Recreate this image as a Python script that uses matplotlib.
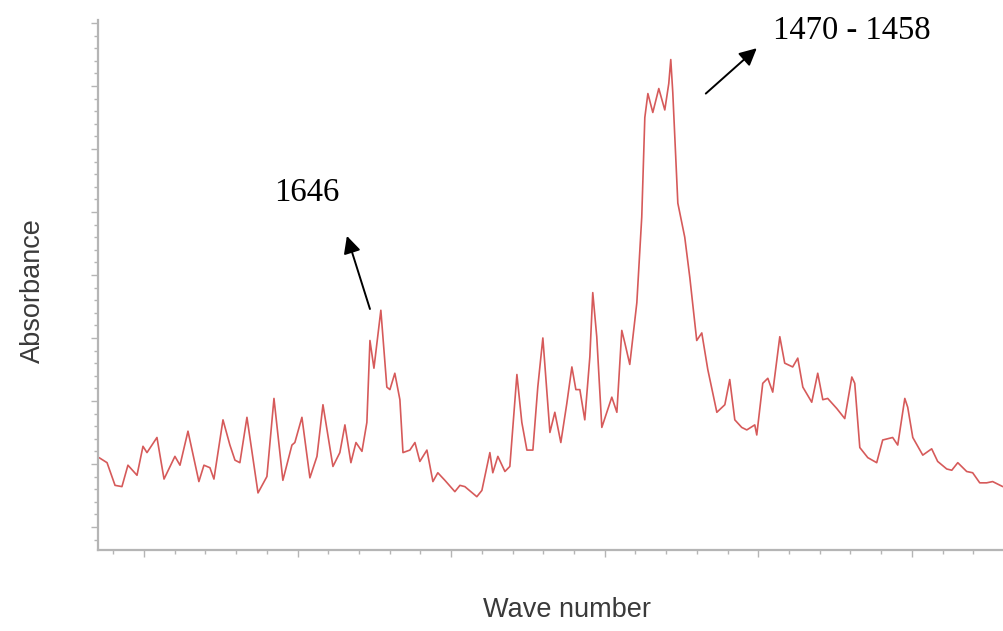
import matplotlib
matplotlib.use("Agg")
import matplotlib.pyplot as plt
from matplotlib.ticker import MultipleLocator, NullFormatter

# IR spectrum: wavenumber (cm^-1) and absorbance
wavenumber = [
    1829.3, 1824.1, 1818.9, 1814.4, 1810.5, 1804.6, 1800.7, 1798.1, 1791.6, 1787.0,
    1779.9, 1776.6, 1771.4, 1764.3, 1761.0, 1757.1, 1754.5, 1748.6, 1744.1, 1740.8,
    1737.6, 1733.0, 1725.8, 1720.0, 1715.4, 1709.6, 1703.7, 1701.8, 1697.2, 1692.0,
    1687.4, 1683.5, 1677.0, 1672.5, 1669.2, 1665.3, 1662.0, 1658.1, 1654.9, 1652.9,
    1650.3, 1645.8, 1641.9, 1639.9, 1636.7, 1633.4, 1631.4, 1626.9, 1623.6, 1620.4,
    1615.8, 1611.9, 1608.7, 1604.1, 1597.6, 1594.3, 1591.1, 1583.3, 1580.0, 1574.8,
    1572.9, 1569.6, 1565.0, 1561.8, 1557.2, 1554.0, 1550.7, 1546.8, 1543.6, 1540.3,
    1535.7, 1532.5, 1528.6, 1524.7, 1521.4, 1518.8, 1516.2, 1513.0, 1509.7, 1507.8,
    1505.2, 1501.9, 1495.4, 1492.1, 1488.9, 1486.9, 1483.7, 1479.1, 1475.9, 1473.9,
    1471.9, 1468.7, 1464.8, 1460.9, 1458.3, 1457.0, 1455.7, 1452.4, 1447.9, 1444.6,
    1440.1, 1436.8, 1432.9, 1427.0, 1421.8, 1418.6, 1415.3, 1410.8, 1407.5, 1402.3,
    1401.0, 1397.1, 1393.8, 1390.6, 1386.0, 1382.8, 1377.6, 1374.3, 1371.0, 1365.2,
    1361.3, 1358.0, 1354.8, 1348.9, 1343.7, 1339.1, 1337.2, 1333.9, 1328.7, 1322.9,
    1319.0, 1312.5, 1309.2, 1304.6, 1302.7, 1299.4, 1292.9, 1287.1, 1283.2, 1277.3,
    1274.0, 1270.1, 1264.3, 1260.4, 1255.8, 1251.3, 1247.4, 1240.8,
]
absorbance = [
    0.255, 0.251, 0.233, 0.232, 0.249, 0.241, 0.264, 0.259, 0.271, 0.238,
    0.256, 0.249, 0.276, 0.236, 0.249, 0.247, 0.238, 0.285, 0.265, 0.253,
    0.251, 0.287, 0.227, 0.240, 0.302, 0.237, 0.265, 0.267, 0.287, 0.239,
    0.256, 0.297, 0.248, 0.259, 0.281, 0.251, 0.267, 0.260, 0.283, 0.348,
    0.326, 0.372, 0.311, 0.309, 0.322, 0.301, 0.259, 0.261, 0.267, 0.252,
    0.261, 0.236, 0.243, 0.237, 0.228, 0.233, 0.232, 0.224, 0.229, 0.259,
    0.243, 0.256, 0.244, 0.248, 0.321, 0.283, 0.261, 0.261, 0.311, 0.350,
    0.275, 0.291, 0.267, 0.298, 0.327, 0.309, 0.309, 0.285, 0.335, 0.386,
    0.351, 0.279, 0.303, 0.291, 0.356, 0.346, 0.329, 0.378, 0.446, 0.525,
    0.544, 0.529, 0.548, 0.531, 0.552, 0.571, 0.545, 0.457, 0.430, 0.398,
    0.348, 0.354, 0.325, 0.291, 0.297, 0.317, 0.285, 0.279, 0.277, 0.281,
    0.273, 0.314, 0.318, 0.307, 0.351, 0.330, 0.327, 0.334, 0.311, 0.299,
    0.322, 0.301, 0.302, 0.294, 0.286, 0.319, 0.314, 0.263, 0.255, 0.251,
    0.269, 0.271, 0.265, 0.302, 0.295, 0.271, 0.257, 0.262, 0.252, 0.246,
    0.245, 0.251, 0.244, 0.243, 0.235, 0.235, 0.236, 0.232,
]

# Band labels and arrows (label position, arrow tail, arrow head)
band_labels = ["1646", "1470 - 1458"]
label_pos = [(1694.0, 0.465), (1339.1, 0.594)]
arrow_tail = [(1652.9, 0.373), (1434.2, 0.544)]
arrow_head = [(1667.9, 0.431), (1401.0, 0.580)]

fig = plt.figure(figsize=(10.04, 6.31), dpi=100)
ax = fig.add_axes([0.0976, 0.1284, 0.9024, 0.8399])

ax.plot(wavenumber, absorbance, color="#d65a5a", lw=1.2,
        solid_joinstyle="round", solid_capstyle="round")

ax.set_xlim(1830, 1240)
ax.set_ylim(0.1817, 0.6024)

axis_grey = "#b5b5b5"
for side in ("top", "right"):
    ax.spines[side].set_visible(False)
for side in ("left", "bottom"):
    ax.spines[side].set_color(axis_grey)
    ax.spines[side].set_linewidth(1.6)

ax.xaxis.set_major_locator(MultipleLocator(100))
ax.xaxis.set_minor_locator(MultipleLocator(20))
ax.yaxis.set_major_locator(MultipleLocator(0.05))
ax.yaxis.set_minor_locator(MultipleLocator(0.01))
ax.xaxis.set_major_formatter(NullFormatter())
ax.yaxis.set_major_formatter(NullFormatter())
ax.tick_params(which="major", length=5, width=1.0, color=axis_grey, direction="out")
ax.tick_params(which="minor", length=3, width=1.0, color=axis_grey, direction="out")

fig.text(0.033, 0.54, "Absorbance", rotation=90, ha="center", va="center",
         fontsize=19.5, family="Liberation Sans", color="#3a3a3a")
fig.text(0.565, 0.033, "Wave number", ha="center", va="center",
         fontsize=19.5, family="Liberation Sans", color="#3a3a3a")

for text, pos, tail, head in zip(band_labels, label_pos, arrow_tail, arrow_head):
    ax.text(pos[0], pos[1], text, ha="center", va="center", fontsize=23.5,
            family="Liberation Serif", color="black", clip_on=False)
    ax.annotate("", xy=head, xytext=tail,
                arrowprops=dict(arrowstyle="-|>", color="black", lw=1.4,
                                mutation_scale=26, shrinkA=0, shrinkB=0),
                annotation_clip=False)

fig.savefig("out.png", dpi=100, facecolor="white")
